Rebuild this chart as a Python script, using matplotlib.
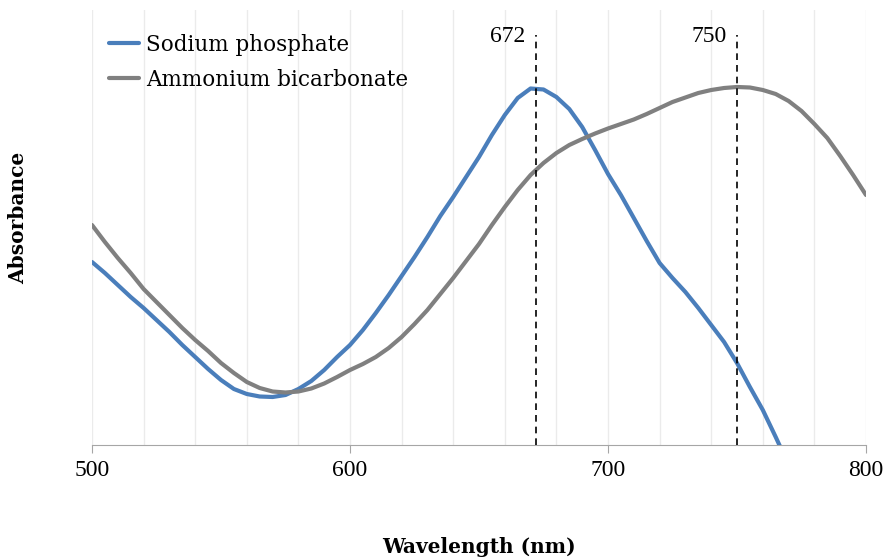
import matplotlib
matplotlib.use("Agg")
import matplotlib.pyplot as plt
from matplotlib.ticker import MultipleLocator

plt.rcParams['font.family'] = ['DejaVu Serif']
NUMFONT = ['Liberation Serif', 'DejaVu Serif']

wl_blue = [500, 505, 510, 515, 520, 525, 530, 535, 540, 545, 550, 555, 560, 565, 570, 575,
           580, 585, 590, 595, 600, 605, 610, 615, 620, 625, 630, 635, 640, 645, 650, 655,
           660, 665, 670, 675, 680, 685, 690, 695, 700, 705, 710, 715, 720, 725, 730, 735,
           740, 745, 750, 755, 760, 765, 770]
sodium = [1.83, 1.72, 1.60, 1.48, 1.37, 1.25, 1.13, 1.00, 0.88, 0.76, 0.65, 0.56, 0.51, 0.485, 0.48, 0.50,
          0.56, 0.64, 0.75, 0.88, 1.00, 1.15, 1.32, 1.50, 1.69, 1.88, 2.08, 2.29, 2.48, 2.68, 2.88, 3.10,
          3.30, 3.47, 3.565, 3.555, 3.48, 3.36, 3.18, 2.95, 2.71, 2.50, 2.27, 2.04, 1.82, 1.67, 1.53, 1.37,
          1.20, 1.03, 0.82, 0.58, 0.35, 0.08, -0.20]

wl_gray = [500, 505, 510, 515, 520, 525, 530, 535, 540, 545, 550, 555, 560, 565, 570, 575,
           580, 585, 590, 595, 600, 605, 610, 615, 620, 625, 630, 635, 640, 645, 650, 655,
           660, 665, 670, 675, 680, 685, 690, 695, 700, 705, 710, 715, 720, 725, 730, 735,
           740, 745, 750, 755, 760, 765, 770, 775, 780, 785, 790, 795, 800]
ammonium = [2.20, 2.03, 1.87, 1.72, 1.56, 1.43, 1.30, 1.17, 1.05, 0.94, 0.82, 0.72, 0.63, 0.57, 0.535, 0.525,
            0.535, 0.565, 0.615, 0.68, 0.75, 0.81, 0.88, 0.97, 1.08, 1.21, 1.35, 1.51, 1.67, 1.84, 2.01, 2.20,
            2.38, 2.55, 2.70, 2.82, 2.92, 3.00, 3.06, 3.115, 3.165, 3.21, 3.255, 3.31, 3.37, 3.43, 3.475, 3.52,
            3.55, 3.57, 3.58, 3.575, 3.55, 3.51, 3.44, 3.34, 3.21, 3.07, 2.89, 2.70, 2.50]

peaks = [672, 750]
peak_labels = ["672", "750"]

fig = plt.figure(figsize=(8.89, 5.6), dpi=100)
ax = fig.add_axes([92/889, 1-445/560, (866-92)/889, (445-10)/560])

ax.plot(wl_blue, sodium, color='#4a7ebb', lw=3, solid_capstyle='round', solid_joinstyle='round',
        label='Sodium phosphate', zorder=3)
ax.plot(wl_gray, ammonium, color='#808080', lw=3, solid_capstyle='round', solid_joinstyle='round',
        label='Ammonium bicarbonate', zorder=3)

for p, t in zip(peaks, peak_labels):
    ax.plot([p, p], [0, 4.10], color='black', lw=1.2, ls=(0, (4, 3)), zorder=4)
    ax.text(p - 4, 4.08, t, ha='right', va='center', fontsize=17, family=NUMFONT)

ax.set_xlim(500, 800)
ax.set_ylim(0, 4.35)
ax.xaxis.set_major_locator(MultipleLocator(100))
ax.xaxis.set_minor_locator(MultipleLocator(20))
ax.grid(True, which='both', axis='x', color='#ebebeb', lw=1, zorder=0)
ax.set_axisbelow(True)
ax.set_yticks([])
for s in ['top', 'right', 'left']:
    ax.spines[s].set_visible(False)
ax.spines['bottom'].set_color('#a6a6a6')
ax.tick_params(axis='x', which='major', direction='out', length=6, color='#a6a6a6',
               labelsize=17, pad=5)
ax.tick_params(axis='x', which='minor', length=0)
for lab in ax.get_xticklabels():
    lab.set_family(NUMFONT)

ax.set_xlabel('Wavelength (nm)', fontsize=14.5, fontweight='bold', labelpad=40)
ax.set_ylabel('Absorbance', fontsize=14.5, fontweight='bold')
ax.yaxis.set_label_coords(-0.082, 0.522)

leg = ax.legend(loc='upper left', bbox_to_anchor=(0.0, 0.985), frameon=False, fontsize=15.5,
                handlelength=1.4, handletextpad=0.3, labelspacing=0.6, borderaxespad=0.4)

fig.savefig('out.png', dpi=100)
